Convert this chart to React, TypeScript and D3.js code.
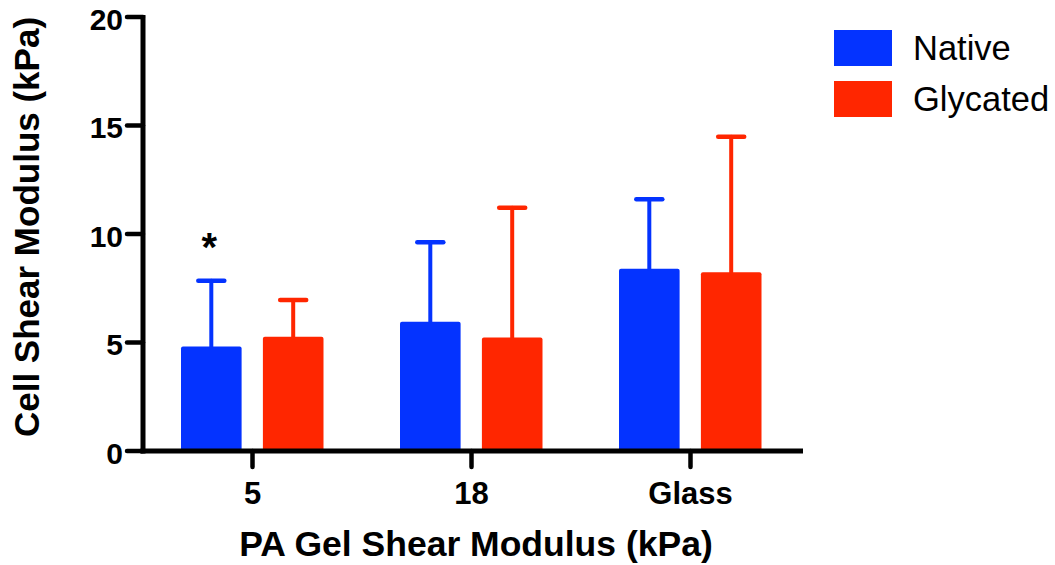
import React from 'react';
import * as d3 from 'd3';

// values (mean + SD, kPa)
const categories = ['5', '18', 'Glass'];
const seriesNames = ['Native', 'Glycated'];
const nativeMean = [4.81, 5.96, 8.4];
const nativeSD = [3.03, 3.66, 3.2];
const glycatedMean = [5.26, 5.23, 8.24];
const glycatedSD = [1.7, 5.98, 6.24];
const yTicks = [0, 5, 10, 15, 20];
const starred = [{ category: '5', series: 'Native' }];

const colors = ['#0433FF', '#FF2600'];
const font = '"Liberation Sans", Arial, Helvetica, sans-serif';

export default function App() {
  const width = 1055;
  const height = 565;
  const left = 143;
  const right = 800;
  const bottom = 451;
  const top = 17;

  const x = d3.scaleBand<string>().domain(categories).range([left, right]).padding(0);
  const inner = d3
    .scaleBand<string>()
    .domain(seriesNames)
    .range([-71.5, 71])
    .paddingInner(0.26)
    .paddingOuter(0);
  const y = d3.scaleLinear().domain([0, 20]).range([bottom, top]);
  const color = d3.scaleOrdinal<string, string>().domain(seriesNames).range(colors);

  const rows = categories.flatMap((c, i) => [
    { category: c, series: 'Native', mean: nativeMean[i], sd: nativeSD[i] },
    { category: c, series: 'Glycated', mean: glycatedMean[i], sd: glycatedSD[i] },
  ]);

  const bw = inner.bandwidth();
  const barX = (d) => (x(d.category) as number) + x.bandwidth() / 2 + (inner(d.series) as number);

  return (
    <svg
      width={width}
      height={height}
      style={{ position: 'absolute', left: 0, top: 0, background: '#fff' }}
      fontFamily={font}
    >
      {/* bars */}
      {rows.map((d) => (
        <rect
          key={'b' + d.category + d.series}
          x={barX(d)}
          y={y(d.mean)}
          width={bw}
          height={y(0) - y(d.mean)}
          rx={2}
          fill={color(d.series)}
        />
      ))}

      {/* error bars (upper only) */}
      {rows.map((d) => {
        const cx = barX(d) + bw / 2;
        return (
          <g key={'e' + d.category + d.series} stroke={color(d.series)} strokeLinecap="round">
            <line x1={cx} x2={cx} y1={y(d.mean)} y2={y(d.mean + d.sd)} strokeWidth={4} />
            <line x1={cx - 13} x2={cx + 13} y1={y(d.mean + d.sd)} y2={y(d.mean + d.sd)} strokeWidth={4.5} />
          </g>
        );
      })}

      {/* significance marks */}
      {starred.map((s) => {
        const d = rows.find((r) => r.category === s.category && r.series === s.series)!;
        return (
          <text
            key={'s' + s.category}
            x={barX(d) + bw / 2 - 2}
            y={y(d.mean + d.sd) - 20}
            textAnchor="middle"
            fontSize={40}
            fontWeight="bold"
            fill="#000"
          >
            *
          </text>
        );
      })}

      {/* y axis */}
      <line x1={left} x2={left} y1={bottom + 2.5} y2={top - 2} stroke="#000" strokeWidth={5} />
      {yTicks.map((t) => (
        <g key={'yt' + t}>
          <line x1={left - 16} x2={left} y1={y(t)} y2={y(t)} stroke="#000" strokeWidth={4.5} strokeLinecap="round" />
          <text x={left - 20} y={y(t) + 12.5} textAnchor="end" fontSize={30} fontWeight="bold" fill="#000">
            {t}
          </text>
        </g>
      ))}

      {/* x axis */}
      <line x1={left - 2.5} x2={right + 3} y1={bottom} y2={bottom} stroke="#000" strokeWidth={5} />
      {categories.map((c) => {
        const cx = (x(c) as number) + x.bandwidth() / 2;
        return (
          <g key={'xt' + c}>
            <line x1={cx} x2={cx} y1={bottom} y2={bottom + 16} stroke="#000" strokeWidth={4.5} strokeLinecap="round" />
            <text x={cx} y={504} textAnchor="middle" fontSize={31} fontWeight="bold" fill="#000">
              {c}
            </text>
          </g>
        );
      })}

      {/* axis titles */}
      <text x={476} y={556} textAnchor="middle" fontSize={35.5} fontWeight="bold" fill="#000">
        PA Gel Shear Modulus (kPa)
      </text>
      <text
        transform="translate(38.5,227) rotate(-90)"
        textAnchor="middle"
        fontSize={35}
        fontWeight="bold"
        fill="#000"
      >
        Cell Shear Modulus (kPa)
      </text>

      {/* legend */}
      {seriesNames.map((s, i) => (
        <g key={'lg' + s} transform={`translate(834,${30 + i * 51})`}>
          <rect width={58} height={36} fill={color(s)} />
          <text x={79} y={30} fontSize={34.5} fill="#000">
            {s}
          </text>
        </g>
      ))}
    </svg>
  );
}
